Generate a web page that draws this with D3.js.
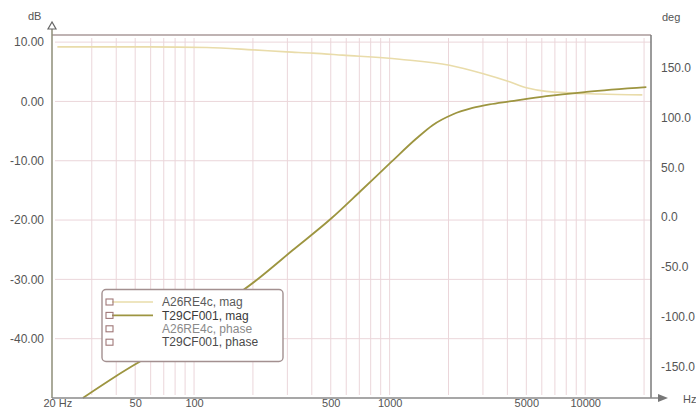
<!DOCTYPE html>
<html><head><meta charset="utf-8">
<script src="https://cdn.jsdelivr.net/npm/d3@7"></script>
<style>body{margin:0;background:#fff}svg{display:block;font-family:"Liberation Sans",Arial,sans-serif}</style>
</head><body><svg id="c" width="696" height="410"></svg>
<script>
const freqTicks = [20, 50, 100, 500, 1000, 5000, 10000];
const freqTickLabels = ["20 Hz", "50", "100", "500", "1000", "5000", "10000"];
const gridFreqs = [30,40,50,60,70,80,90,100,200,300,400,500,600,700,800,900,1000,2000,3000,4000,5000,6000,7000,8000,9000,10000,20000];
const dbTicks = [10, 0, -10, -20, -30, -40];
const dbTickLabels = ["10.00", "0.00", "-10.00", "-20.00", "-30.00", "-40.00"];
const degTicks = [150, 100, 50, 0, -50, -100, -150];
const degTickLabels = ["150.0", "100.0", "50.0", "0.0", "-50.0", "-100.0", "-150.0"];

// T29CF001, mag
const t29Freq = [27, 40, 62, 100, 209, 319, 504, 711, 1020, 1366, 1659, 2098, 2654, 3241, 4102, 6334, 10139, 20540];
const t29Db   = [-50, -46.3, -42.4, -37.6, -30.1, -25.1, -19.7, -15.1, -10.2, -6.3, -4.0, -2.2, -1.1, -0.5, 0.0, 0.9, 1.6, 2.4];
// A26RE4c, mag
const a26Freq = [20, 26, 59, 116, 200, 298, 404, 575, 1125, 2025, 2984, 4102, 5008, 6334, 11818, 19590];
const a26Db   = [9.2, 9.2, 9.2, 9.1, 8.7, 8.35, 8.15, 7.8, 7.1, 6.1, 4.7, 3.3, 2.3, 1.7, 1.25, 1.1];

const legendNames = ["A26RE4c, mag", "T29CF001, mag", "A26RE4c, phase", "T29CF001, phase"];
const legendLine = ["#e9dcaa", "#9d9540", null, null];
const legendText = ["#5a5a5a", "#3a3a3a", "#8a8a8a", "#4a4a4a"];

const svg = d3.select("#c");
const L = 52, R = 651, T = 35, B = 398;
const x = d3.scaleLog().domain([19, 21700]).range([53, 651]);
const yDb = d3.scaleLinear().domain([-50, 11.2]).range([B, T]);
const yDeg = d3.scaleLinear().domain([-182, 183]).range([B, T]);

// grid
const g = svg.append("g");
g.selectAll("line.v").data(gridFreqs).join("line")
  .attr("x1", d => x(d)).attr("x2", d => x(d)).attr("y1", T + 3).attr("y2", B - 3)
  .attr("stroke", "#ebd6da").attr("stroke-width", 1);
g.selectAll("line.h").data(dbTicks).join("line")
  .attr("x1", L + 3).attr("x2", R).attr("y1", d => yDb(d)).attr("y2", d => yDb(d))
  .attr("stroke", "#ebd6da").attr("stroke-width", 1);

// series
const line = d3.line().curve(d3.curveMonotoneX);
svg.append("path")
  .attr("d", line(a26Freq.map((f, i) => [x(f), yDb(a26Db[i])])))
  .attr("fill", "none").attr("stroke", "#e9dcaa").attr("stroke-width", 1.6);
svg.append("path")
  .attr("d", line(t29Freq.map((f, i) => [x(f), yDb(t29Db[i])])))
  .attr("fill", "none").attr("stroke", "#9d9540").attr("stroke-width", 1.8);

// frame / axes lines
svg.append("line").attr("x1", L).attr("x2", R).attr("y1", T).attr("y2", T).attr("stroke", "#aa9a9a").attr("stroke-width", 1.5);
svg.append("line").attr("x1", R).attr("x2", R).attr("y1", T).attr("y2", B).attr("stroke", "#7a7a7a").attr("stroke-width", 1.5);
svg.append("line").attr("x1", L).attr("x2", L).attr("y1", 27).attr("y2", B).attr("stroke", "#8e8e78").attr("stroke-width", 1.5);
svg.append("line").attr("x1", L).attr("x2", 660).attr("y1", B).attr("y2", B).attr("stroke", "#8a8a8a").attr("stroke-width", 1.5);
svg.append("path").attr("d", `M${L},22 L${L-4},29 L${L+4},29 Z`).attr("fill", "#fff").attr("stroke", "#666").attr("stroke-width", 1.2);
svg.append("path").attr("d", `M668,${B} L658,${B-4} L658,${B+4} Z`).attr("fill", "#777");

// axes labels
const axL = svg.append("g").attr("transform", `translate(${L},0)`)
  .call(d3.axisLeft(yDb).tickValues(dbTicks).tickFormat((d, i) => dbTickLabels[i]).tickSize(0).tickPadding(8));
const axR = svg.append("g").attr("transform", `translate(${R},0)`)
  .call(d3.axisRight(yDeg).tickValues(degTicks).tickFormat((d, i) => degTickLabels[i]).tickSize(0).tickPadding(10));
const axB = svg.append("g").attr("transform", `translate(0,${B})`)
  .call(d3.axisBottom(x).tickValues(freqTicks).tickFormat((d, i) => freqTickLabels[i]).tickSize(0).tickPadding(1));
[axL, axR, axB].forEach(a => {
  a.select(".domain").remove();
  a.selectAll("text").attr("fill", "#555").style("font-size", "12px").style("font-family", '"Liberation Sans",Arial,sans-serif');
});
axB.selectAll("text").style("font-size", "11px");

svg.append("text").attr("x", 28).attr("y", 20).text("dB").attr("fill", "#555").style("font-size", "11px");
svg.append("text").attr("x", 662).attr("y", 21).text("deg").attr("fill", "#555").style("font-size", "11px");
svg.append("text").attr("x", 683).attr("y", 403).text("Hz").attr("fill", "#555").style("font-size", "11px");

// legend
const lg = svg.append("g");
lg.append("rect").attr("x", 102).attr("y", 289.5).attr("width", 181).attr("height", 72).attr("rx", 4)
  .attr("fill", "#fff").attr("stroke", "#a39090").attr("stroke-width", 1.4);
legendNames.forEach((n, i) => {
  const cy = 302 + i * 13.4;
  if (legendLine[i]) lg.append("line").attr("x1", 112).attr("x2", 153).attr("y1", cy).attr("y2", cy)
    .attr("stroke", legendLine[i]).attr("stroke-width", i === 1 ? 1.8 : 1.6);
  lg.append("rect").attr("x", 106).attr("y", cy - 3).attr("width", 7).attr("height", 6)
    .attr("fill", "none").attr("stroke", "#a07878").attr("stroke-width", 1.1);
  lg.append("text").attr("x", 162).attr("y", cy).attr("dy", "0.35em").text(n)
    .attr("fill", legendText[i]).style("font-size", "12px");
});
</script></body></html>
